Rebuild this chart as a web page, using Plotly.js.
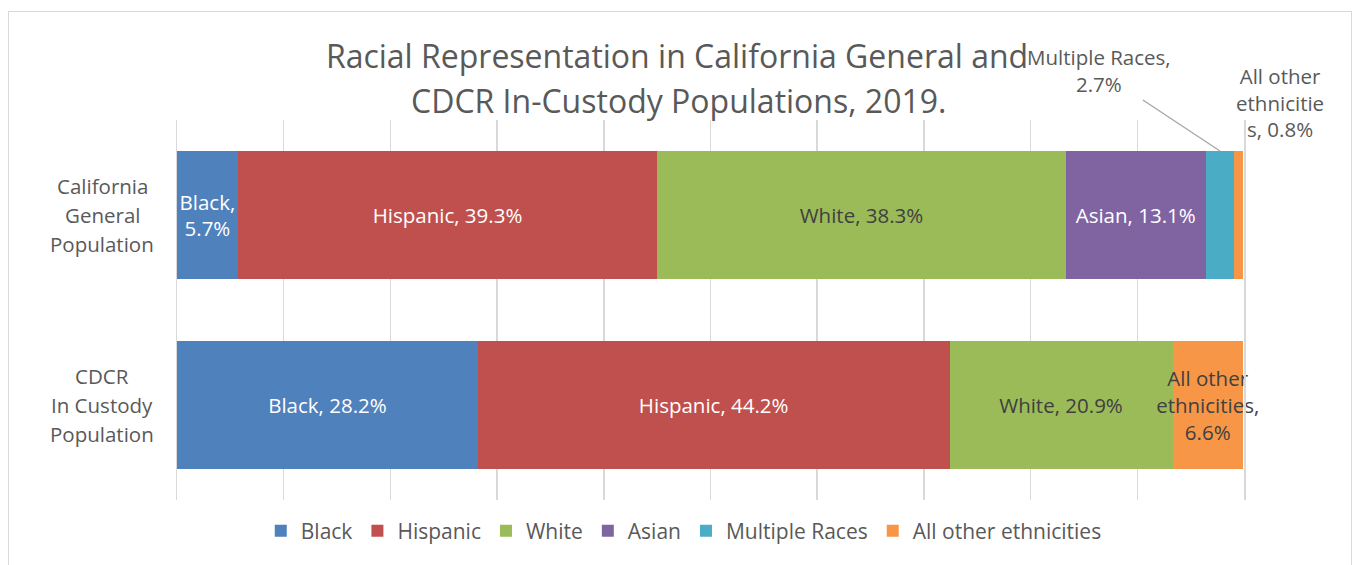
<!DOCTYPE html>
<html>
<head>
<meta charset="utf-8">
<script src="https://cdn.plot.ly/plotly-3.0.1.min.js"></script>
<style>
  html, body { margin: 0; padding: 0; background: #fff; }
  #wrap { position: relative; width: 1354px; height: 565px; overflow: hidden; }
  #chart { position: absolute; left: 0; top: 0; width: 1354px; height: 565px; }
  #frame { position: absolute; left: 8px; top: 11px; width: 1342px; height: 600px;
           border: 1.5px solid #d9d9d9; pointer-events: none; }
</style>
</head>
<body>
<div id="wrap">
  <div id="chart"></div>
  <div id="frame"></div>
</div>
<script>
// ---- data ----
const categories = ['California<br>General<br>Population', 'CDCR<br>In Custody<br>Population'];
const seriesNames = ['Black', 'Hispanic', 'White', 'Asian', 'Multiple Races', 'All other ethnicities'];
const black    = [5.7, 28.2];
const hispanic = [39.3, 44.2];
const white    = [38.3, 20.9];
const asian    = [13.1, null];
const multiple = [2.7, null];
const other    = [0.8, 6.6];
const colors = ['#4F81BD', '#C0504D', '#9BBB59', '#8064A2', '#4BACC6', '#F79646'];
const labelColors = ['#ffffff', '#ffffff', '#404040', '#ffffff', '#404040', '#404040'];
// how each data label's name is broken into lines (per bar); '' = no inside label
const labelNames = [
  ['Black,<br>', 'Black, '],
  ['Hispanic, ', 'Hispanic, '],
  ['White, ', 'White, '],
  ['Asian, ', ''],
  ['', ''],
  ['', 'All other<br>ethnicities,<br>']
];

const seriesValues = [black, hispanic, white, asian, multiple, other];
const FONT = 'Open Sans, Noto Sans, sans-serif';
const LBL = 20.5;

const traces = seriesValues.map((vals, i) => ({
  type: 'bar',
  orientation: 'h',
  name: seriesNames[i],
  y: categories,
  x: vals,
  marker: { color: colors[i], line: { width: 0 } },
  text: vals.map((v, j) => (v == null || labelNames[i][j] === '') ? '' : labelNames[i][j] + v.toFixed(1) + '%'),
  textposition: 'inside',
  insidetextanchor: 'middle',
  textangle: 0,
  constraintext: 'none',
  cliponaxis: false,
  textfont: { family: FONT, size: LBL, color: labelColors[i] },
  hoverinfo: 'name+x'
}));

// cumulative positions for outside labels on the first bar
const cum = [];
let acc = 0;
seriesValues.forEach(v => { cum.push(acc); acc += (v[0] || 0); });
const multMid = cum[4] + multiple[0] / 2;
const otherEnd = cum[5] + other[0];

// plot area in pixels: x 177..1244, y 120..500
const pyTop = 120, pyBot = 500, pxL = 177, pxR = 1244;
const paperY = py => (pyBot - py) / (pyBot - pyTop);
const paperX = px => (px - pxL) / (pxR - pxL);

const annotations = [
  {
    text: 'CDCR In-Custody Populations, 2019.',
    xref: 'paper', yref: 'paper',
    x: paperX(678), y: paperY(100),
    xanchor: 'center', yanchor: 'middle',
    showarrow: false,
    font: { family: FONT, size: 32, color: '#595959' }
  },
  {
    text: 'Multiple Races,<br>2.7%',
    xref: 'x', yref: 'y',
    x: multMid, y: -0.337,
    showarrow: true, arrowhead: 0, arrowwidth: 1.3, arrowcolor: '#a6a6a6',
    ax: -121, ay: -80,
    font: { family: FONT, size: LBL, color: '#595959' }
  },
  {
    text: 'All other<br>ethnicitie<br>s, 0.8%',
    xref: 'x', yref: 'y',
    x: otherEnd, y: -0.337,
    showarrow: false,
    xanchor: 'center', yanchor: 'bottom',
    xshift: 37, yshift: 6,
    font: { family: FONT, size: LBL, color: '#595959' }
  }
];
// category labels, one line at a time (Excel-like line spacing)
categories.forEach(c => {
  const lines = c.split('<br>');
  lines.forEach((ln, k) => annotations.push({
    text: ln,
    xref: 'paper', yref: 'y',
    x: paperX(102), y: c,
    xanchor: 'center', yanchor: 'middle', align: 'center',
    yshift: -(k - (lines.length - 1) / 2) * 29,
    showarrow: false,
    font: { family: FONT, size: 20.5, color: '#595959' }
  }));
});

const layout = {
  width: 1354,
  height: 565,
  margin: { l: 177, r: 110, t: 120, b: 65 },
  paper_bgcolor: '#ffffff',
  plot_bgcolor: '#ffffff',
  barmode: 'stack',
  bargap: 0.326,
  font: { family: FONT, color: '#595959' },
  title: {
    text: 'Racial Representation in California General and',
    font: { family: FONT, size: 32, color: '#595959' },
    xref: 'container', x: 0.5, xanchor: 'center',
    yref: 'container', y: 1 - 57 / 565, yanchor: 'middle'
  },
  xaxis: {
    range: [0, 100],
    showgrid: true,
    gridcolor: '#d9d9d9',
    gridwidth: 1.5,
    dtick: 10,
    showticklabels: false,
    zeroline: false,
    showline: false,
    ticks: '',
    fixedrange: true
  },
  yaxis: {
    type: 'category',
    autorange: 'reversed',
    showgrid: false,
    zeroline: false,
    showline: true,
    mirror: true,
    linecolor: '#d9d9d9',
    linewidth: 1.5,
    ticks: '',
    showticklabels: false,
    fixedrange: true
  },
  showlegend: true,
  legend: {
    orientation: 'h',
    xref: 'container', x: 0.505, xanchor: 'center',
    yref: 'container', y: 1 - 531 / 565, yanchor: 'middle',
    font: { family: FONT, size: 21, color: '#595959' },
    traceorder: 'normal',
    itemwidth: 30
  },
  annotations: annotations
};

Plotly.newPlot('chart', traces, layout, { displayModeBar: false, staticPlot: true });
</script>
</body>
</html>
